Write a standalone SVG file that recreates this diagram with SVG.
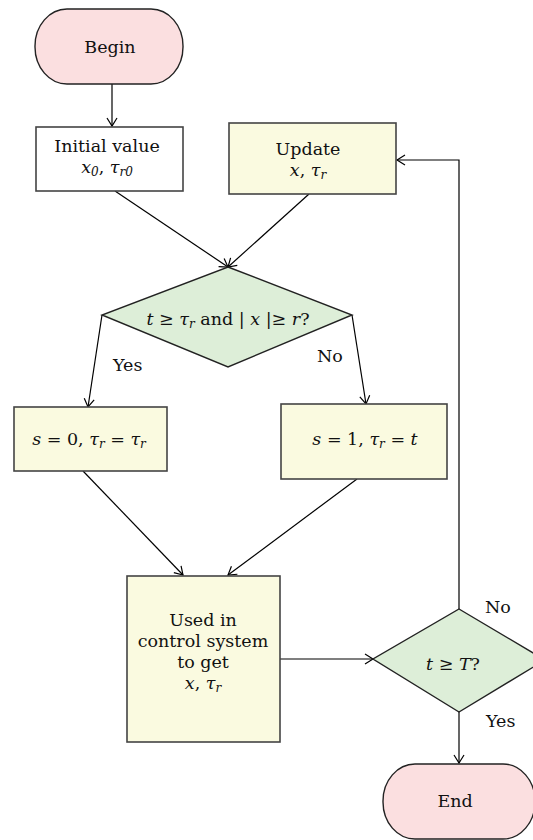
<svg xmlns="http://www.w3.org/2000/svg" width="533" height="840" viewBox="0 0 533 840">
<defs>
<marker id="arr" markerUnits="userSpaceOnUse" markerWidth="14" markerHeight="14" refX="10" refY="6" orient="auto">
<path d="M2,1 L10,6 L2,11" fill="none" stroke="#000" stroke-width="1.2"/>
</marker>
<style>
text{font-family:"DejaVu Serif","Liberation Serif",serif;font-size:17.5px;fill:#111;text-anchor:middle}
.i{font-style:italic}
.sub{font-size:12px;font-style:italic}
.term{fill:#fbdfe0;stroke:#222;stroke-width:1.4}
.proc{fill:#fafae0;stroke:#444;stroke-width:1.6}
.white{fill:#fff;stroke:#444;stroke-width:1.6}
.dec{fill:#ddeed8;stroke:#222;stroke-width:1.4}
.c{fill:none;stroke:#000;stroke-width:1.2;marker-end:url(#arr)}
.lbl{text-anchor:start}
</style>
</defs>
<g id="connectors">
<line class="c" x1="112" y1="84" x2="112" y2="126"/>
<line class="c" x1="115" y1="191" x2="228" y2="267"/>
<line class="c" x1="309" y1="194" x2="228" y2="267"/>
<line class="c" x1="102" y1="315" x2="88" y2="407"/>
<line class="c" x1="352" y1="315" x2="366" y2="404"/>
<line class="c" x1="83" y1="471" x2="183" y2="575"/>
<line class="c" x1="357" y1="479" x2="228" y2="575"/>
<line class="c" x1="280" y1="659" x2="373" y2="659"/>
<polyline class="c" points="459,609 459,160 397,160"/>
<line class="c" x1="459" y1="712" x2="459" y2="763"/>
<text class="lbl" x="113" y="371">Yes</text>
<text class="lbl" x="317" y="362">No</text>
<text class="lbl" x="485" y="613">No</text>
<text class="lbl" x="486" y="727">Yes</text>
</g>
<g id="begin">
<rect class="term" x="35" y="9" width="148" height="75" rx="32" ry="37"/>
<text x="110" y="53">Begin</text>
</g>
<g id="initial">
<rect class="white" x="36" y="127" width="147" height="64"/>
<text x="107" y="152">Initial value</text>
<text x="107" y="173"><tspan class="i">x</tspan><tspan class="sub" dy="3">0</tspan><tspan dy="-3">, </tspan><tspan class="i">τ</tspan><tspan class="sub" dy="3">r0</tspan></text>
</g>
<g id="update">
<rect class="proc" x="229" y="123" width="167" height="71"/>
<text x="308" y="155">Update</text>
<text x="308" y="176"><tspan class="i">x</tspan>, <tspan class="i">τ</tspan><tspan class="sub" dy="3">r</tspan></text>
</g>
<g id="decision1">
<polygon class="dec" points="228,267 352,315 228,367 102,315"/>
<text x="228" y="325"><tspan class="i">t</tspan> ≥ <tspan class="i">τ</tspan><tspan class="sub" dy="3">r</tspan><tspan dy="-3"> and | </tspan><tspan class="i">x</tspan> |≥ <tspan class="i">r</tspan>?</text>
</g>
<g id="s0">
<rect class="proc" x="14" y="407" width="153" height="64"/>
<text x="89" y="445"><tspan class="i">s</tspan> = 0, <tspan class="i">τ</tspan><tspan class="sub" dy="3">r</tspan><tspan dy="-3"> = </tspan><tspan class="i">τ</tspan><tspan class="sub" dy="3">r</tspan></text>
</g>
<g id="s1">
<rect class="proc" x="281" y="404" width="166" height="75"/>
<text x="365" y="445"><tspan class="i">s</tspan> = 1, <tspan class="i">τ</tspan><tspan class="sub" dy="3">r</tspan><tspan dy="-3"> = </tspan><tspan class="i">t</tspan></text>
</g>
<g id="used">
<rect class="proc" x="127" y="576" width="153" height="166"/>
<text x="203" y="626">Used in</text>
<text x="203" y="647">control system</text>
<text x="203" y="668">to get</text>
<text x="203" y="689"><tspan class="i">x</tspan>, <tspan class="i">τ</tspan><tspan class="sub" dy="3">r</tspan></text>
</g>
<g id="decision2">
<polygon class="dec" points="459,609 545,660 459,712 373,659"/>
<text x="453" y="670"><tspan class="i">t</tspan> ≥ <tspan class="i">T</tspan>?</text>
</g>
<g id="end">
<rect class="term" x="383" y="764" width="152" height="75" rx="32" ry="37"/>
<text x="455" y="807">End</text>
</g>
</svg>
